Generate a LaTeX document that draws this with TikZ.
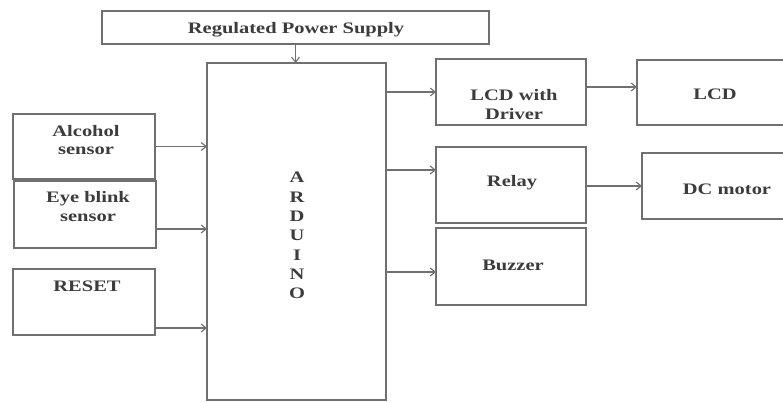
\documentclass[tikz,border=0pt]{standalone}
\usepackage{fontspec}
\setmainfont{Liberation Serif}[FakeStretch=1.28]
\usetikzlibrary{arrows.meta}
\definecolor{linec}{RGB}{112,112,112}
\definecolor{textc}{RGB}{60,60,60}
\tikzset{
  blk/.style={draw=linec, line width=1.4pt, rectangle, inner sep=0pt, outer sep=0pt, anchor=north west},
  lbl/.style={anchor=base, inner sep=0pt, text=textc, font=\fontsize{16}{18}\selectfont\bfseries},
  arr/.style={draw=linec, line width=1.1pt, -{Straight Barb[length=5pt,width=8pt]}}
}
\begin{document}
\begin{tikzpicture}[x=1pt,y=-1pt]
\useasboundingbox (0,0) rectangle (783,403);
\clip (0,0) rectangle (783,403);
% boxes
\node[blk, minimum width=387pt, minimum height=33pt] (rps) at (102,11) {};
\node[blk, minimum width=179pt, minimum height=337pt] (ard) at (207,63) {};
\node[blk, minimum width=142pt, minimum height=65pt] (alc) at (13,114) {};
\node[blk, minimum width=142pt, minimum height=67pt] (eye) at (14,181) {};
\node[blk, minimum width=142pt, minimum height=66pt] (rst) at (13,269) {};
\node[blk, minimum width=150pt, minimum height=66pt] (lcdd) at (436,59) {};
\node[blk, minimum width=170pt, minimum height=65pt] (lcd) at (637,60) {};
\node[blk, minimum width=150pt, minimum height=76pt] (rel) at (436,147) {};
\node[blk, minimum width=150pt, minimum height=77pt] (buz) at (436,228) {};
\node[blk, minimum width=170pt, minimum height=66pt] (dcm) at (642,153) {};
% labels
\node[lbl] (trps) at (296,34) {Regulated Power Supply};
\node[lbl] (talc1) at (86,137) {Alcohol};
\node[lbl] (talc2) at (86,155) {sensor};
\node[lbl] (teye1) at (88,203) {Eye blink};
\node[lbl] (teye2) at (88,222) {sensor};
\node[lbl] (trst) at (87,291) {RESET};
\node[lbl] (ta1) at (297,183) {A};
\node[lbl] (ta2) at (297,202.3) {R};
\node[lbl] (ta3) at (297,221.6) {D};
\node[lbl] (ta4) at (297,240.9) {U};
\node[lbl] (ta5) at (297,260.2) {I};
\node[lbl] (ta6) at (297,279.5) {N};
\node[lbl] (ta7) at (297,298.8) {O};
\node[lbl] (tlcdd1) at (514,101) {LCD with};
\node[lbl] (tlcdd2) at (514,120) {Driver};
\node[lbl] (tlcd) at (715,100) {LCD};
\node[lbl] (trel) at (512,187) {Relay};
\node[lbl] (tdcm) at (727,195) {DC motor};
\node[lbl] (tbuz) at (513,270) {Buzzer};
% connector anchors
\coordinate (eyeout) at (156,229);
\coordinate (rstout) at (155,328);
\coordinate (ardrel) at (386,170);
\coordinate (ardbuz) at (386,272);
\coordinate (lcddout) at (586,87);
% connectors
\draw[arr] (rps.south) -- (rps.south |- ard.north);
\draw[arr] (alc.east) -- (alc.east -| ard.west);
\draw[arr] (eyeout) -- (eyeout -| ard.west);
\draw[arr] (rstout) -- (rstout -| ard.west);
\draw[arr] (ard.east |- lcdd.west) -- (lcdd.west);
\draw[arr] (ardrel) -- (ardrel -| rel.west);
\draw[arr] (ardbuz) -- (ardbuz -| buz.west);
\draw[arr] (lcddout) -- (lcddout -| lcd.west);
\draw[arr] (rel.east |- dcm.west) -- (dcm.west);
\end{tikzpicture}
\end{document}
